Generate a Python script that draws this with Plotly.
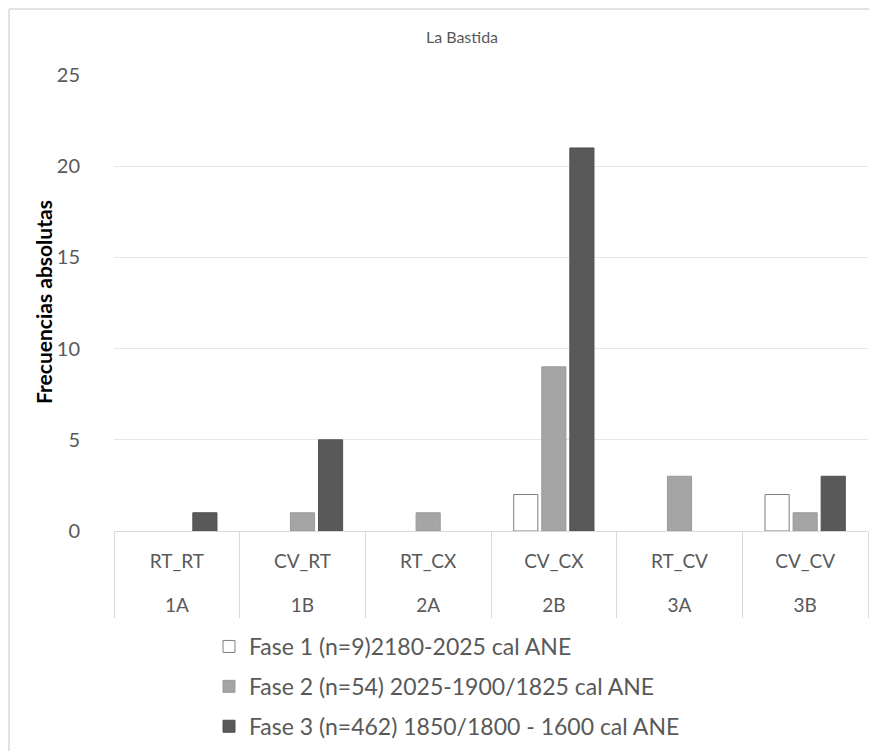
import plotly.graph_objects as go

codes = ["1A", "1B", "2A", "2B", "3A", "3B"]
types = ["RT_RT", "CV_RT", "RT_CX", "CV_CX", "RT_CV", "CV_CV"]
fase1 = [0, 0, 0, 2, 0, 2]
fase2 = [0, 1, 1, 9, 3, 1]
fase3 = [1, 5, 0, 21, 0, 3]
names = ["Fase 1 (n=9)2180-2025 cal ANE",
         "Fase 2 (n=54) 2025-1900/1825 cal ANE",
         "Fase 3 (n=462) 1850/1800 - 1600 cal ANE"]
yticks = [0, 5, 10, 15, 20, 25]

FONT = "Lato"
# page body has an 8px margin; figure coordinates = page coordinates - 8
W, H = 869, 743
L, R, T, B = 106, 9, 67, 220
pw, ph = W - L - R, H - T - B

def px_x(p):
    return (p - L) / pw

def px_y(p):
    return (H - B - p) / ph

fig = go.Figure()
fills = ["#ffffff", "#a5a5a5", "#595959"]
lines = ["#7f7f7f", "#9a9a9a", "#505050"]
for vals, name, fc, lc in zip([fase1, fase2, fase3], names, fills, lines):
    fig.add_trace(go.Bar(
        x=types, y=[v if v else None for v in vals], name=name, legendgroup=name,
        marker=dict(color=fc, line=dict(color=lc, width=1)),
    ))
# carrier for the second (code) label row
fig.add_trace(go.Scatter(x=types, y=[None] * len(types), xaxis="x2", yaxis="y",
                         showlegend=False, hoverinfo="skip", mode="markers"))

fig.update_layout(
    width=W, height=H,
    margin=dict(l=L, r=R, t=T, b=B, autoexpand=False),
    paper_bgcolor="white", plot_bgcolor="white",
    barmode="group", bargap=0.33, bargroupgap=0.14,
    font=dict(family=FONT, color="#595959"),
    title=dict(text="La Bastida", x=px_x(454), xref="paper", xanchor="center",
               y=1 - 29 / H, yanchor="middle",
               font=dict(family=FONT, size=16, color="#595959")),
    showlegend=True,
    legend=dict(orientation="v", x=px_x(201), xanchor="left",
                y=px_y(617), yanchor="top",
                font=dict(family=FONT, size=23, color="#595959"),
                tracegroupgap=7, bgcolor="rgba(0,0,0,0)"),
    xaxis=dict(
        type="category", categoryorder="array", categoryarray=types,
        range=[-0.5, len(types) - 0.5], automargin=False,
        showgrid=False, showline=True, linecolor="#d9d9d9", linewidth=1,
        ticks="outside", tickson="boundaries", ticklen=86, tickcolor="#d9d9d9",
        tickwidth=1, ticklabelstandoff=13,
        tickfont=dict(family=FONT, size=19, color="#595959"),
    ),
    xaxis2=dict(
        type="category", categoryorder="array", categoryarray=types,
        range=[-0.5, len(types) - 0.5], overlaying="x", anchor="y", side="bottom",
        tickvals=types, ticktext=codes, automargin=False,
        showgrid=False, showline=False, ticks="", ticklabelstandoff=61,
        tickfont=dict(family=FONT, size=19, color="#595959"),
    ),
    yaxis=dict(
        range=[0, 25], tickvals=yticks, showgrid=True, gridcolor="#e6e6e6",
        zeroline=False, showline=False, ticks="", automargin=False,
        tickfont=dict(family=FONT, size=20, color="#595959"),
        ticklabelstandoff=33,
    ),
)
fig.add_annotation(
    text="<b>Frecuencias absolutas</b>", textangle=-90,
    xref="paper", yref="paper", x=px_x(35), y=px_y(294),
    xanchor="center", yanchor="middle",
    showarrow=False, font=dict(family=FONT, size=21, color="#000000"),
)
# chart frame (left and top edges visible)
fig.add_shape(type="line", xref="paper", yref="paper",
              x0=px_x(1), x1=px_x(1), y0=px_y(1), y1=px_y(760),
              line=dict(color="#d9d9d9", width=1.5))
fig.add_shape(type="line", xref="paper", yref="paper",
              x0=px_x(1), x1=px_x(880), y0=px_y(1), y1=px_y(1),
              line=dict(color="#d9d9d9", width=1.5))

fig.write_html("out.html")
